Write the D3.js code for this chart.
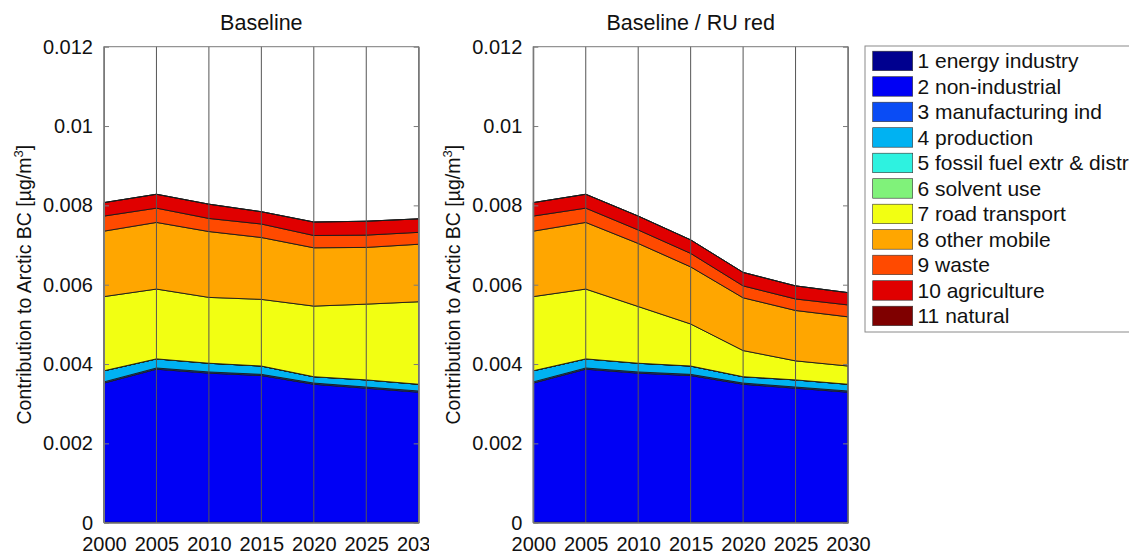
<!DOCTYPE html>
<html>
<head>
<meta charset="utf-8">
<script src="https://cdn.jsdelivr.net/npm/d3@7"></script>
<style>
  body { margin: 0; background: #fff; }
  svg { display: block; }
  text { font-family: "Liberation Sans", Arial, sans-serif; fill: #111; }
</style>
</head>
<body>
<svg id="chart" width="1129" height="554"></svg>
<script>
// Years along the x axis
const years = [2000, 2005, 2010, 2015, 2020, 2025, 2030];

// Sector names (stacking order, bottom to top)
const sectors = [
  "1 energy industry", "2 non-industrial", "3 manufacturing ind", "4 production",
  "5 fossil fuel extr & distr", "6 solvent use", "7 road transport", "8 other mobile",
  "9 waste", "10 agriculture", "11 natural"
];
const sectorColors = [
  "#00008f", "#0000f5", "#0a4cf5", "#00b2f2", "#2ef2e0", "#80f27a",
  "#f2ff12", "#ffa600", "#ff4a00", "#e00000", "#7f0000"
];

// Contribution to Arctic BC [ug/m3] per sector, Baseline scenario
const baseEnergy     = [0.00001, 0.00001, 0.00001, 0.00001, 0.00001, 0.00001, 0.00001];
const baseNonInd     = [0.00351, 0.00386, 0.00376, 0.00370, 0.00348, 0.00338, 0.00328];
const baseManuf      = [0.00003, 0.00003, 0.00003, 0.00003, 0.00003, 0.00003, 0.00003];
const baseProduction = [0.00028, 0.00023, 0.00022, 0.00021, 0.00016, 0.00018, 0.00017];
const baseFossil     = [0, 0, 0, 0, 0, 0, 0];
const baseSolvent    = [0, 0, 0, 0, 0, 0, 0];
const baseRoad       = [0.00187, 0.00176, 0.00166, 0.00168, 0.00178, 0.00191, 0.00208];
const baseMobile     = [0.00165, 0.00168, 0.00166, 0.00156, 0.00147, 0.00143, 0.00145];
const baseWaste      = [0.00038, 0.00036, 0.00033, 0.00034, 0.00031, 0.00031, 0.00030];
const baseAgri       = [0.00034, 0.00035, 0.00036, 0.00031, 0.00034, 0.00035, 0.00034];
const baseNatural    = [0, 0, 0, 0, 0, 0, 0];

// Baseline / RU red scenario
const ruEnergy     = [0.00001, 0.00001, 0.00001, 0.00001, 0.00001, 0.00001, 0.00001];
const ruNonInd     = [0.00351, 0.00386, 0.00376, 0.00370, 0.00348, 0.00338, 0.00328];
const ruManuf      = [0.00003, 0.00003, 0.00003, 0.00003, 0.00003, 0.00003, 0.00003];
const ruProduction = [0.00028, 0.00023, 0.00022, 0.00021, 0.00016, 0.00018, 0.00017];
const ruFossil     = [0, 0, 0, 0, 0, 0, 0];
const ruSolvent    = [0, 0, 0, 0, 0, 0, 0];
const ruRoad       = [0.00187, 0.00176, 0.00143, 0.00106, 0.00066, 0.00048, 0.00046];
const ruMobile     = [0.00165, 0.00168, 0.00159, 0.00144, 0.00133, 0.00127, 0.00124];
const ruWaste      = [0.00038, 0.00036, 0.00034, 0.00034, 0.00030, 0.00029, 0.00030];
const ruAgri       = [0.00034, 0.00035, 0.00035, 0.00034, 0.00034, 0.00033, 0.00031];
const ruNatural    = [0, 0, 0, 0, 0, 0, 0];

const yTicks = [0, 0.002, 0.004, 0.006, 0.008, 0.01, 0.012];
const yTickLabels = ["0", "0.002", "0.004", "0.006", "0.008", "0.01", "0.012"];
const xTickLabels = ["2000", "2005", "2010", "2015", "2020", "2025", "2030"];

const panels = [
  { title: "Baseline", left: 104,
    series: [baseEnergy, baseNonInd, baseManuf, baseProduction, baseFossil, baseSolvent,
             baseRoad, baseMobile, baseWaste, baseAgri, baseNatural],
    clipRight: 429 },
  { title: "Baseline / RU red", left: 533.3,
    series: [ruEnergy, ruNonInd, ruManuf, ruProduction, ruFossil, ruSolvent,
             ruRoad, ruMobile, ruWaste, ruAgri, ruNatural],
    clipRight: 1129 }
];

const svg = d3.select("#chart");
const plotW = 314.7, plotTop = 46.7, plotBottom = 522.7;
const y = d3.scaleLinear().domain([0, 0.012]).range([plotBottom, plotTop]);
const axisColor = "#7a7a7a";

panels.forEach((p, pi) => {
  const x = d3.scaleLinear().domain([2000, 2030]).range([p.left, p.left + plotW]);
  const rows = years.map((yr, i) => {
    const r = { year: yr };
    sectors.forEach((s, k) => r[s] = p.series[k][i]);
    return r;
  });
  const stacked = d3.stack().keys(sectors)(rows);
  const area = d3.area()
    .x(d => x(d.data.year))
    .y0(d => y(d[0]))
    .y1(d => y(d[1]));

  const g = svg.append("g");
  g.selectAll("path.layer").data(stacked).join("path")
    .attr("class", "layer")
    .attr("d", area)
    .attr("fill", (d, i) => sectorColors[i])
    .attr("stroke", "#1a1a1a")
    .attr("stroke-width", 0.9)
    .attr("stroke-linejoin", "round");

  // vertical grid lines at every tick year
  g.selectAll("line.grid").data(years).join("line")
    .attr("class", "grid")
    .attr("x1", d => x(d)).attr("x2", d => x(d))
    .attr("y1", plotTop).attr("y2", plotBottom)
    .attr("stroke", "#555").attr("stroke-width", 1);

  // box around the plot area
  g.append("rect")
    .attr("x", p.left).attr("y", plotTop)
    .attr("width", plotW).attr("height", plotBottom - plotTop)
    .attr("fill", "none").attr("stroke", axisColor).attr("stroke-width", 1);

  // y axis (left) with inward ticks, mirrored ticks on the right
  const yAxisL = d3.axisLeft(y).tickValues(yTicks)
    .tickFormat((d, i) => yTickLabels[i]).tickSizeInner(-5).tickSizeOuter(0).tickPadding(11);
  const ga = g.append("g").attr("transform", `translate(${p.left},0)`).call(yAxisL);
  ga.select(".domain").attr("stroke", axisColor);
  ga.selectAll(".tick line").attr("stroke", axisColor);
  ga.selectAll(".tick text").attr("font-size", 20).attr("fill", "#111")
    .attr("font-family", "Liberation Sans, Arial, sans-serif");

  const yAxisR = d3.axisRight(y).tickValues(yTicks).tickFormat("").tickSizeInner(-5).tickSizeOuter(0);
  const gr = g.append("g").attr("transform", `translate(${p.left + plotW},0)`).call(yAxisR);
  gr.select(".domain").attr("stroke", axisColor);
  gr.selectAll(".tick line").attr("stroke", axisColor);

  // x axis
  const clipId = "xclip" + pi;
  svg.append("clipPath").attr("id", clipId).append("rect")
    .attr("x", 0).attr("y", 0).attr("width", p.clipRight).attr("height", 554);
  const xAxis = d3.axisBottom(x).tickValues(years)
    .tickFormat((d, i) => xTickLabels[i]).tickSizeInner(-5).tickSizeOuter(0).tickPadding(14);
  const gx = g.append("g").attr("transform", `translate(0,${plotBottom})`)
    .attr("clip-path", `url(#${clipId})`).call(xAxis);
  gx.select(".domain").attr("stroke", axisColor);
  gx.selectAll(".tick line").attr("stroke", axisColor);
  gx.selectAll(".tick text").attr("font-size", 20).attr("fill", "#111")
    .attr("font-family", "Liberation Sans, Arial, sans-serif");

  // title
  g.append("text")
    .attr("x", p.left + plotW / 2).attr("y", 30)
    .attr("text-anchor", "middle").attr("font-size", 21.5)
    .text(p.title);

  // y label
  const yl = g.append("text")
    .attr("transform", `translate(${p.left - 73},${(plotTop + plotBottom) / 2}) rotate(-90)`)
    .attr("text-anchor", "middle").attr("font-size", 19.5);
  yl.append("tspan").text("Contribution to Arctic BC [µg/m");
  yl.append("tspan").attr("dy", -8).attr("font-size", 13).text("3");
  yl.append("tspan").attr("dy", 8).text("]");
});

// legend
const legend = svg.append("g");
legend.append("rect")
  .attr("x", 865).attr("y", 46).attr("width", 320).attr("height", 286)
  .attr("fill", "#fff").attr("stroke", "#8a8a8a").attr("stroke-width", 1);
const ly = d3.scaleBand().domain(sectors).range([51.2, 51.2 + 25.5 * 11]);
const items = legend.selectAll("g.item").data(sectors).join("g").attr("class", "item");
items.append("rect")
  .attr("x", 872.7).attr("y", d => ly(d))
  .attr("width", 40).attr("height", 19.5)
  .attr("fill", (d, i) => sectorColors[i])
  .attr("stroke", "#333").attr("stroke-width", 0.6);
items.append("text")
  .attr("x", 917.5).attr("y", d => ly(d) + 17)
  .attr("font-size", 21)
  .text(d => d);
</script>
</body>
</html>
